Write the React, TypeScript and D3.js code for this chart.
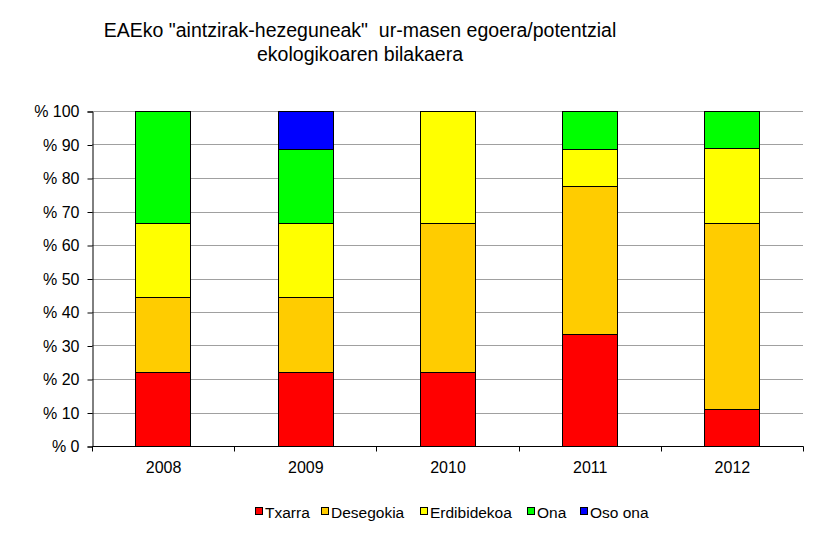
import { useRef, useEffect } from "react";
import * as d3 from "d3";

const years = ["2008", "2009", "2010", "2011", "2012"];
const seriesNames = ["Txarra", "Desegokia", "Erdibidekoa", "Ona", "Oso ona"];
const seriesColors = ["#ff0000", "#ffcc00", "#ffff00", "#00ff00", "#0000ff"];
// percentage of water bodies per status class, by year
const txarra = [22.2, 22.2, 22.2, 33.3, 11.1];
const desegokia = [22.2, 22.2, 44.4, 44.4, 55.6];
const erdibidekoa = [22.2, 22.2, 33.4, 11.1, 22.2];
const ona = [33.4, 22.2, 0, 11.2, 11.1];
const osoOna = [0, 11.2, 0, 0, 0];
const yTicks = [0, 10, 20, 30, 40, 50, 60, 70, 80, 90, 100];

export default function App() {
  const ref = useRef<HTMLDivElement>(null);

  function init() {
    if (!ref.current) return;
    ref.current.innerHTML = "";

    const W = 820,
      H = 533;
    const margin = { top: 111, right: 17, bottom: 87, left: 92 },
      width = W - margin.left - margin.right,
      height = H - margin.top - margin.bottom;

    const svg = d3
      .select(ref.current)
      .append("svg")
      .attr("width", W)
      .attr("height", H)
      .style("font-family", "Liberation Sans, Arial, sans-serif");

    svg.append("rect").attr("width", W).attr("height", H).attr("fill", "#fff");

    const rows = years.map((yr, i) => ({
      year: yr,
      Txarra: txarra[i],
      Desegokia: desegokia[i],
      Erdibidekoa: erdibidekoa[i],
      Ona: ona[i],
      "Oso ona": osoOna[i],
    }));

    const stack = d3.stack<any>().keys(seriesNames)(rows);

    const x = d3.scaleBand().domain(years).range([0, width]).paddingInner(0.61).paddingOuter(0.305);
    const y = d3.scaleLinear().domain([0, 100]).range([height, 0]);
    const color = d3.scaleOrdinal<string>().domain(seriesNames).range(seriesColors);

    // Title
    const title = svg
      .append("text")
      .attr("text-anchor", "middle")
      .attr("font-size", 19.5)
      .attr("fill", "#000")
      .style("white-space", "pre");
    title.append("tspan").attr("x", 360).attr("y", 37).text('EAEko "aintzirak-hezeguneak"  ur-masen egoera/potentzial');
    title.append("tspan").attr("x", 360).attr("y", 61).text("ekologikoaren bilakaera");

    const g = svg.append("g").attr("transform", `translate(${margin.left}, ${margin.top})`);

    // Grid
    g.selectAll(".grid")
      .data(yTicks.filter((d) => d > 0))
      .join("line")
      .attr("x1", 0)
      .attr("x2", width)
      .attr("y1", (d) => Math.round(y(d)) + 0.5)
      .attr("y2", (d) => Math.round(y(d)) + 0.5)
      .attr("stroke", "#a0a0a0");

    // Bars
    g.selectAll(".series")
      .data(stack)
      .join("g")
      .attr("fill", (d) => color(d.key))
      .selectAll("rect")
      .data((d) => d.filter((p) => p[1] - p[0] > 0))
      .join("rect")
      .attr("x", (d: any) => Math.round(x(d.data.year)!) + 0.5)
      .attr("y", (d) => Math.round(y(d[1])) + 0.5)
      .attr("width", Math.round(x.bandwidth()))
      .attr("height", (d) => Math.round(y(d[0])) - Math.round(y(d[1])))
      .attr("stroke", "#000")
      .attr("stroke-width", 1);

    // Y axis
    const yAxis = d3
      .axisLeft(y)
      .tickValues(yTicks)
      .tickSize(5)
      .tickPadding(8)
      .tickFormat((d) => `% ${d}`);
    const ya = g.append("g").attr("transform", "translate(0.5,0.5)").call(yAxis);
    ya.selectAll("text").attr("font-size", 16).attr("fill", "#000").attr("font-family", "Liberation Sans, Arial, sans-serif");
    ya.selectAll("line,path").attr("stroke", "#000");

    // X axis
    const xa = g.append("g").attr("transform", `translate(0.5, ${height + 0.5})`);
    xa.append("line").attr("x1", 0).attr("x2", width).attr("stroke", "#000");
    const step = x.step();
    xa.selectAll(".xt")
      .data(d3.range(years.length + 1))
      .join("line")
      .attr("x1", (i) => Math.round(i * step))
      .attr("x2", (i) => Math.round(i * step))
      .attr("y1", 0)
      .attr("y2", 5)
      .attr("stroke", "#000");
    xa.selectAll(".xl")
      .data(years)
      .join("text")
      .attr("x", (d) => x(d)! + x.bandwidth() / 2)
      .attr("y", 26)
      .attr("text-anchor", "middle")
      .attr("font-size", 16)
      .attr("fill", "#000")
      .text((d) => d);

    // Legend
    const legendX = [255, 321, 420, 527, 580];
    const lg = svg.append("g").attr("transform", "translate(0, 512)");
    const items = lg
      .selectAll("g")
      .data(seriesNames)
      .join("g")
      .attr("transform", (d, i) => `translate(${legendX[i]}, 0)`);
    items
      .append("rect")
      .attr("x", 0.5)
      .attr("y", -4.5)
      .attr("width", 7)
      .attr("height", 7)
      .attr("fill", (d) => color(d))
      .attr("stroke", "#000");
    items
      .append("text")
      .attr("x", 10)
      .attr("y", 5.5)
      .attr("font-size", 15.5)
      .attr("fill", "#000")
      .text((d) => d);
  }

  useEffect(init, []);

  return <div ref={ref} style={{ position: "absolute", left: 0, top: 0 }}></div>;
}
